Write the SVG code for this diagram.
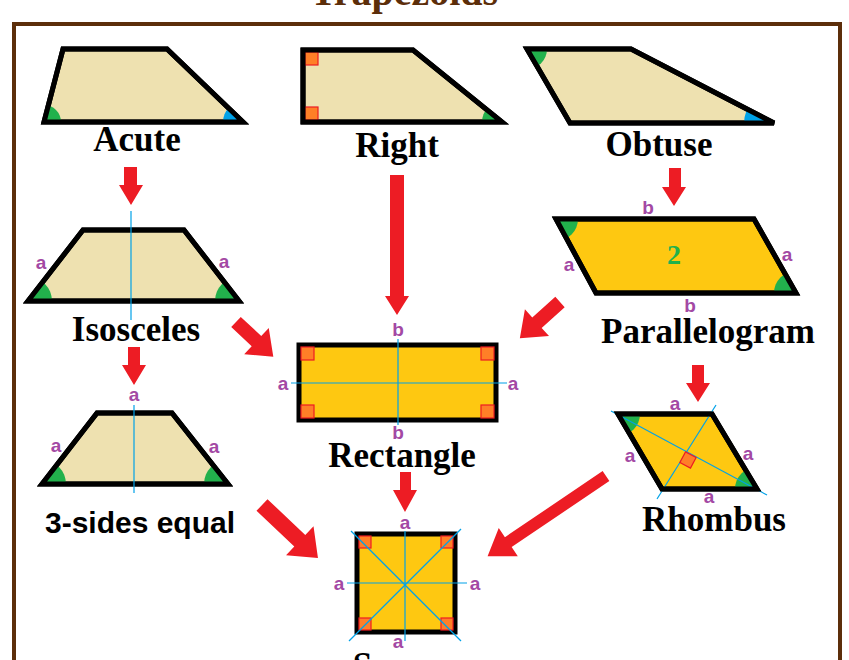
<svg xmlns="http://www.w3.org/2000/svg" width="849" height="660" viewBox="0 0 849 660">
<style>
.tz{fill:#eee1b0;stroke:#000;stroke-width:5;stroke-linejoin:miter}
.gd{fill:#fec811;stroke:#000;stroke-width:5}
.nl{fill:none;stroke:#000;stroke-width:5}
.ttl{font-family:"Liberation Serif",serif;font-weight:bold;font-size:35px;text-anchor:middle;fill:#000}
.lb{font-family:"Liberation Sans",Arial,sans-serif;font-weight:bold;font-size:19px;fill:#a349a4;text-anchor:middle}
.bl{stroke:#00a2e8;stroke-width:1.2;fill:none}
.ar{fill:#ed1c24}
.g{fill:#22b14c}
.b{fill:#00a2e8}
.o{fill:#ff7f27;stroke:#ed1c24;stroke-width:1.2}
</style>
<defs>
<clipPath id="cA"><polygon points="63,49 167,49 243,122 44,122"/></clipPath>
<clipPath id="cR"><polygon points="303,50 413,50 502,122 303,122"/></clipPath>
<clipPath id="cO"><polygon points="527,49 631,49 774,123 570,123"/></clipPath>
<clipPath id="cI"><polygon points="83,230 184,230 239,301 28,301"/></clipPath>
<clipPath id="cP"><polygon points="556,219 754,219 796,293 596,293"/></clipPath>
<clipPath id="c3"><polygon points="97,413 172,413 228,484 42,484"/></clipPath>
<clipPath id="cH"><polygon points="618,414 712,414 757,489 662,489"/></clipPath>
</defs>
<rect width="849" height="660" fill="#fff"/>
<text x="404" y="5" font-family="Liberation Serif,serif" font-weight="bold" font-size="40" fill="#5c2e0a" text-anchor="middle">Trapezoids</text>
<polyline points="14,662 14,24 840,24 840,662" fill="none" stroke="#5c2e0a" stroke-width="4"/>

<g id="acute">
<polygon class="tz" points="63,49 167,49 243,122 44,122"/>
<g clip-path="url(#cA)"><circle class="g" cx="44" cy="122" r="17"/><circle class="b" cx="243" cy="122" r="20"/></g>
<polygon class="nl" points="63,49 167,49 243,122 44,122"/>
<text class="ttl" x="137" y="151">Acute</text>
</g>
<g id="right">
<polygon class="tz" points="303,50 413,50 502,122 303,122"/>
<g clip-path="url(#cR)"><circle class="g" cx="502" cy="122" r="20"/></g>
<rect class="o" x="305" y="52" width="13" height="13"/><rect class="o" x="305" y="107" width="13" height="13"/>
<polygon class="nl" points="303,50 413,50 502,122 303,122"/>
<text class="ttl" x="397" y="157">Right</text>
</g>
<g id="obtuse">
<polygon class="tz" points="527,49 631,49 774,123 570,123"/>
<g clip-path="url(#cO)"><circle class="g" cx="527" cy="49" r="20"/><circle class="b" cx="774" cy="123" r="30"/></g>
<polygon class="nl" points="527,49 631,49 774,123 570,123"/>
<text class="ttl" x="659" y="156">Obtuse</text>
</g>
<g id="isosceles">
<polygon class="tz" points="83,230 184,230 239,301 28,301"/>
<g clip-path="url(#cI)"><circle class="g" cx="28" cy="301" r="24"/><circle class="g" cx="239" cy="301" r="24"/></g>
<polygon class="nl" points="83,230 184,230 239,301 28,301"/>
<line class="bl" x1="131" y1="211" x2="131" y2="320"/>
<text class="lb" x="41" y="269">a</text><text class="lb" x="224" y="268">a</text>
<text class="ttl" x="136" y="341">Isosceles</text>
</g>
<g id="parallelogram">
<polygon class="gd" points="556,219 754,219 796,293 596,293"/>
<g clip-path="url(#cP)"><circle class="g" cx="556" cy="219" r="22"/><circle class="g" cx="796" cy="293" r="22"/></g>
<polygon class="nl" points="556,219 754,219 796,293 596,293"/>
<text x="674" y="264" font-family="Liberation Serif,serif" font-weight="bold" font-size="28" fill="#22b14c" text-anchor="middle">2</text>
<text class="lb" x="648" y="214">b</text><text class="lb" x="690" y="312">b</text>
<text class="lb" x="569" y="271">a</text><text class="lb" x="787" y="261">a</text>
<text class="ttl" x="708" y="343">Parallelogram</text>
</g>
<g id="rectangle">
<rect class="gd" x="299" y="345" width="197" height="75"/>
<rect class="o" x="301" y="347" width="13" height="13"/><rect class="o" x="481" y="347" width="13" height="13"/>
<rect class="o" x="301" y="405" width="13" height="13"/><rect class="o" x="481" y="405" width="13" height="13"/>
<line class="bl" x1="291" y1="383" x2="507" y2="383"/><line class="bl" x1="398" y1="339" x2="398" y2="425"/>
<text class="lb" x="283" y="390">a</text><text class="lb" x="513" y="390">a</text>
<text class="lb" x="398" y="336">b</text><text class="lb" x="398" y="439">b</text>
<text class="ttl" x="402" y="467">Rectangle</text>
</g>
<g id="threesides">
<polygon class="tz" points="97,413 172,413 228,484 42,484"/>
<g clip-path="url(#c3)"><circle class="g" cx="42" cy="484" r="24"/><circle class="g" cx="228" cy="484" r="24"/></g>
<polygon class="nl" points="97,413 172,413 228,484 42,484"/>
<line class="bl" x1="134" y1="405" x2="134" y2="493"/>
<text class="lb" x="134" y="401">a</text><text class="lb" x="56" y="452">a</text><text class="lb" x="214" y="453">a</text>
<text x="140" y="533" font-family="Liberation Sans,Arial,sans-serif" font-weight="bold" font-size="30" text-anchor="middle">3-sides equal</text>
</g>
<g id="rhombus">
<polygon class="gd" points="618,414 712,414 757,489 662,489"/>
<g clip-path="url(#cH)"><circle class="g" cx="618" cy="414" r="22"/><circle class="g" cx="757" cy="489" r="22"/></g>
<line class="bl" x1="611" y1="411" x2="767" y2="495"/><line class="bl" x1="716" y1="405" x2="657" y2="499"/>
<rect class="o" x="682" y="454" width="12" height="12" transform="rotate(28 688 460)"/>
<polygon class="nl" points="618,414 712,414 757,489 662,489"/>
<text class="lb" x="675" y="410">a</text><text class="lb" x="630" y="462">a</text><text class="lb" x="748" y="460">a</text><text class="lb" x="709" y="503">a</text>
<text class="ttl" x="714" y="531">Rhombus</text>
</g>
<g id="square">
<rect class="gd" x="357" y="534" width="98" height="98"/>
<rect class="o" x="359" y="536" width="12" height="12"/><rect class="o" x="441" y="536" width="12" height="12"/>
<rect class="o" x="359" y="618" width="12" height="12"/><rect class="o" x="441" y="618" width="12" height="12"/>
<line class="bl" x1="347" y1="583" x2="467" y2="583"/><line class="bl" x1="405" y1="531" x2="405" y2="641"/>
<line class="bl" x1="351" y1="531" x2="461" y2="641"/><line class="bl" x1="461" y1="529" x2="349" y2="641"/>
<text class="lb" x="405" y="529">a</text><text class="lb" x="339" y="590">a</text><text class="lb" x="475" y="590">a</text><text class="lb" x="398" y="648">a</text>
<text class="ttl" x="406" y="677">Square</text>
</g>
<g id="connectors">
<polygon class="ar" points="124,167 137,167 137,185 143,185 131,205 119,185 124,185"/>
<polygon class="ar" points="390,175 404,175 404,296 409,296 397,315 385,296 390,296"/>
<polygon class="ar" points="669,168 681,168 681,187 686,187 674,206 662,187 669,187"/>
<polygon class="ar" points="128,347 140,347 140,365 146,365 134,385 122,365 128,365"/>
<polygon class="ar" points="400,472 411,472 411,490 417,490 405,512 393,490 400,490"/>
<polygon class="ar" points="692,365 704,365 704,383 710,383 698,402 686,383 692,383"/>
<polygon class="ar" transform="translate(236,322) rotate(43)" points="0,-7 28,-7 28,-18 51,0 28,18 28,7 0,7"/>
<polygon class="ar" transform="translate(560,302) rotate(138)" points="0,-7 31,-7 31,-18 54,0 31,18 31,7 0,7"/>
<polygon class="ar" transform="translate(262,505) rotate(43.4)" points="0,-8 52,-8 52,-20 77,0 52,20 52,8 0,8"/>
<polygon class="ar" transform="translate(606,476) rotate(145.9)" points="0,-6 118,-6 118,-17 143,0 118,17 118,6 0,6"/>
</g>
</svg>
